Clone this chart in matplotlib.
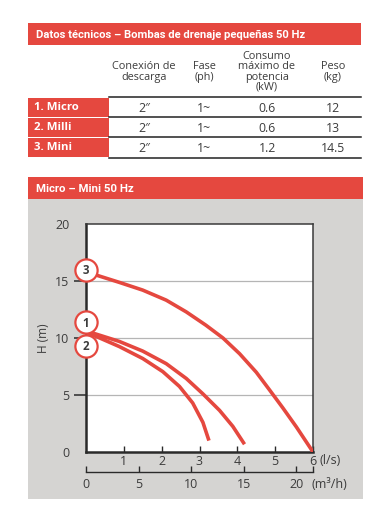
import matplotlib
matplotlib.use("Agg")
import matplotlib.pyplot as plt
from matplotlib.patches import Rectangle

plt.rcParams["font.family"] = ["Open Sans", "DejaVu Sans"]

RED = "#e5483f"
GREY_BG = "#d5d4d2"
TXT = "#3c3c3c"
HEAD_FONT = ["Roboto", "DejaVu Sans"]

# ---------------------------
# Table data
# ---------------------------
table_title = "Datos técnicos – Bombas de drenaje pequeñas 50 Hz"
col_headers = ["Conexión de\ndescarga", "Fase\n(ph)", "Consumo\nmáximo de\npotencia\n(kW)", "Peso\n(kg)"]
models = ["1. Micro", "2. Milli", "3. Mini"]
conexion = ["2″", "2″", "2″"]
fase = ["1~", "1~", "1~"]
consumo = ["0.6", "0.6", "1.2"]
peso = ["12", "13", "14.5"]

# ---------------------------
# Curve data (flow in l/s, head in m)
# ---------------------------
chart_title = "Micro – Mini 50 Hz"
micro_q = [0.05, 0.26, 0.88, 1.5, 2.12, 2.65, 3.09, 3.53, 3.88, 4.19]
micro_h = [10.55, 10.35, 9.7, 8.85, 7.75, 6.45, 5.1, 3.65, 2.25, 0.68]
milli_q = [0.05, 0.26, 0.88, 1.5, 2.03, 2.47, 2.82, 3.09, 3.25]
milli_h = [10.45, 10.15, 9.25, 8.2, 7.05, 5.75, 4.3, 2.6, 1.0]
mini_q = [0.05, 0.26, 0.88, 1.5, 2.12, 2.65, 3.17, 3.62, 4.06, 4.5, 4.85, 5.2, 5.56, 6.0]
mini_h = [15.7, 15.53, 14.88, 14.2, 13.32, 12.29, 11.12, 10.0, 8.62, 7.0, 5.45, 3.88, 2.2, 0.0]
badge_labels = ["1", "2", "3"]
badge_h = [11.36, 9.34, 16.0]

W, H = 389, 515
fig = plt.figure(figsize=(W / 100, H / 100), dpi=100)
fig.patch.set_facecolor("white")

# background axes in pixel coordinates
bg = fig.add_axes([0, 0, 1, 1])
bg.set_xlim(0, W)
bg.set_ylim(H, 0)
bg.axis("off")

# table title bar
bg.add_patch(Rectangle((28, 23), 333, 22, color=RED, lw=0))
bg.text(36, 34.5, table_title, color="white", fontsize=8.15, fontweight="bold",
        va="center", ha="left", family=HEAD_FONT)

col_x = [144, 204, 267, 333]
for x, lab in zip(col_x, col_headers):
    bg.text(x, 72, lab, ha="center", va="center", fontsize=7.8, color=TXT,
            linespacing=0.9)

row_y = [97, 117, 137]
for i, y in enumerate(row_y):
    bg.add_patch(Rectangle((28, y + 0.5), 81, 19.3, color=RED, lw=0))
    bg.text(34, y + 10.5, models[i], color="white", fontsize=8.2, fontweight="bold",
            va="center", ha="left")
    for x, val in zip(col_x, [conexion[i], fase[i], consumo[i], peso[i]]):
        bg.text(x, y + 11, val, ha="center", va="center", fontsize=8.8, color=TXT)
for y in row_y + [158]:
    bg.plot([109, 361], [y, y], color="#222222", lw=1.1)

# chart panel
bg.add_patch(Rectangle((28, 177), 335, 22, color=RED, lw=0))
bg.text(36, 188.5, chart_title, color="white", fontsize=8.2, fontweight="bold",
        va="center", ha="left", family=HEAD_FONT)
bg.add_patch(Rectangle((28, 199), 335, 300, color=GREY_BG, lw=0))

# plot axes
x0, x1, y0, y1 = 86, 313, 224, 452
ax = fig.add_axes([x0 / W, (H - y1) / H, (x1 - x0) / W, (y1 - y0) / H])
ax.set_facecolor("white")
ax.set_xlim(0, 6)
ax.set_ylim(0, 20)

for gy in [5, 10, 15]:
    ax.axhline(gy, color="#b5b5b5", lw=0.9, zorder=1)

for q, h in [(micro_q, micro_h), (milli_q, milli_h), (mini_q, mini_h)]:
    ax.plot(q, h, color=RED, lw=2.6, solid_capstyle="butt",
            solid_joinstyle="round", zorder=3)

for lab, bh in zip(badge_labels, badge_h):
    ax.plot(0, bh, marker="o", markersize=16, mfc="white", mec=RED, mew=1.6,
            clip_on=False, zorder=5)
    ax.text(0, bh - 0.05, lab, ha="center", va="center", fontsize=8.3,
            fontweight="bold", color=TXT, zorder=6, clip_on=False)

for side in ["left", "bottom"]:
    ax.spines[side].set_linewidth(1.8)
    ax.spines[side].set_color("#2a2a2a")
for side in ["top", "right"]:
    ax.spines[side].set_linewidth(1.1)
    ax.spines[side].set_color("#3a3a3a")

ax.set_yticks([0, 5, 10, 15, 20])
ax.tick_params(axis="y", direction="out", length=9, width=1.1, color="#2a2a2a",
               labelsize=9, labelcolor=TXT, pad=3)
yt = ax.yaxis.get_major_ticks()
yt[0].tick1line.set_visible(False)
yt[-1].tick1line.set_visible(False)

ax.set_xticks([1, 2, 3, 4, 5, 6])
ax.tick_params(axis="x", direction="in", length=4, width=1.0, color="#2a2a2a",
               labelsize=9, labelcolor=TXT, pad=2)
ax.set_ylabel("H (m)", fontsize=8.5, color=TXT, labelpad=4)

sec = ax.secondary_xaxis(-20 / (y1 - y0), functions=(lambda q: q * 3.6, lambda m: m / 3.6))
sec.set_xticks([0, 5, 10, 15, 20, 21.6])
sec.set_xticklabels(["0", "5", "10", "15", "20", ""])
sec.tick_params(direction="in", length=4, width=1.0, color="#2a2a2a",
                labelsize=9, labelcolor=TXT, pad=4)
sec.spines["bottom"].set_linewidth(1.0)
sec.spines["bottom"].set_color("#2a2a2a")

bg.text(320, 461, "(l/s)", fontsize=9, color=TXT, va="center", ha="left")
bg.text(312, 484, "(m³/h)", fontsize=9, color=TXT, va="center", ha="left")

fig.savefig("out.png", dpi=100, facecolor="white")
